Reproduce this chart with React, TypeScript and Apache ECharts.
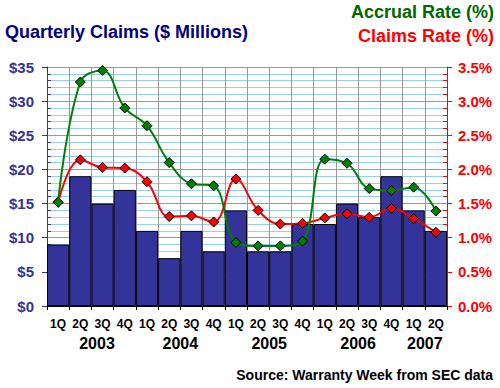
import React, { useEffect, useRef } from "react";
import * as echarts from "echarts";

const quarters = ["1Q", "2Q", "3Q", "4Q", "1Q", "2Q", "3Q", "4Q", "1Q", "2Q", "3Q", "4Q", "1Q", "2Q", "3Q", "4Q", "1Q", "2Q"];
const years = ["2003", "2004", "2005", "2006", "2007"];
const yearPositions = [2.25, 6, 10, 14, 17];
const claims = [9, 19, 15, 17, 11, 7, 11, 8, 14, 8, 8, 12, 12, 15, 13, 19, 14, 11];
const accrualRate = [1.52, 3.28, 3.45, 2.9, 2.64, 2.1, 1.79, 1.76, 0.93, 0.88, 0.88, 0.95, 2.15, 2.09, 1.72, 1.69, 1.74, 1.39];
const claimsRate = [1.52, 2.14, 2.03, 2.02, 1.82, 1.31, 1.32, 1.23, 1.86, 1.4, 1.2, 1.21, 1.29, 1.35, 1.3, 1.43, 1.28, 1.08];

const FONT = "'Liberation Sans', Arial, Helvetica, sans-serif";

export default function App() {
  const ref = useRef<HTMLDivElement>(null);
  useEffect(() => {
    if (!ref.current) return;
    const chart = echarts.init(ref.current, undefined, { renderer: "svg" });
    chart.setOption({
      animation: false,
      backgroundColor: "#ffffff",
      textStyle: { fontFamily: FONT },
      grid: { left: 47, right: 53, top: 67, bottom: 82, containLabel: false },
      graphic: [
        {
          type: "text",
          left: 5,
          top: 23,
          style: { text: "Quarterly Claims ($ Millions)", fill: "#000080", font: `bold 18px ${FONT}` },
        },
        {
          type: "text",
          right: 6,
          top: 3,
          style: { text: "Accrual Rate (%)", fill: "#006600", font: `bold 18px ${FONT}` },
        },
        {
          type: "text",
          right: 6,
          top: 27,
          style: { text: "Claims Rate (%)", fill: "#ff0000", font: `bold 18px ${FONT}` },
        },
        {
          type: "text",
          right: 7,
          top: 368,
          style: { text: "Source: Warranty Week from SEC data", fill: "#000000", font: `bold 14px ${FONT}` },
        },
      ],
      xAxis: [
        {
          type: "category",
          data: quarters,
          boundaryGap: true,
          axisLine: { lineStyle: { color: "#000", width: 1 } },
          axisTick: { show: true, interval: 0, length: 4, lineStyle: { color: "#000" } },
          axisLabel: { interval: 0, color: "#000", fontSize: 12, fontWeight: "bold", margin: 12, fontFamily: FONT },
          splitLine: { show: true, interval: 0, lineStyle: { color: "#999999", width: 1 } },
        },
        {
          type: "value",
          position: "bottom",
          min: 0,
          max: 18,
          interval: 0.25,
          axisLine: { show: false },
          axisTick: { show: false },
          splitLine: { show: false },
          axisLabel: {
            margin: 29,
            color: "#000",
            fontSize: 16,
            fontWeight: "bold",
            fontFamily: FONT,
            showMinLabel: true,
            showMaxLabel: true,
            formatter: (v: number) => {
              const i = yearPositions.findIndex((p) => Math.abs(p - v) < 1e-6);
              return i >= 0 ? years[i] : "";
            },
          },
        },
      ],
      yAxis: [
        {
          type: "value",
          min: 0,
          max: 35,
          interval: 5,
          position: "left",
          axisLine: { show: true, lineStyle: { color: "#333399", width: 1 } },
          axisTick: { show: true, length: 5, lineStyle: { color: "#333399" } },
          minorTick: { show: true, splitNumber: 5, length: -4, lineStyle: { color: "#333399" } },
          axisLabel: {
            color: "#333399",
            fontSize: 15,
            fontWeight: "bold",
            margin: 13,
            fontFamily: FONT,
            formatter: (v: number) => "$" + v,
          },
          splitLine: { show: true, lineStyle: { color: "#999999", width: 1 } },
          minorSplitLine: { show: true, lineStyle: { color: "#99ccff", width: 1 } },
        },
        {
          type: "value",
          min: 0,
          max: 3.5,
          interval: 0.5,
          position: "right",
          axisLine: { show: true, lineStyle: { color: "#ff0000", width: 1 } },
          axisTick: { show: true, length: 5, lineStyle: { color: "#ff0000" } },
          minorTick: { show: true, splitNumber: 5, length: -4, lineStyle: { color: "#ff0000" } },
          axisLabel: {
            color: "#ff0000",
            fontSize: 15,
            fontWeight: "bold",
            margin: 11,
            fontFamily: FONT,
            formatter: (v: number) => v.toFixed(1) + "%",
          },
          splitLine: { show: false },
        },
      ],
      series: [
        {
          name: "Quarterly Claims",
          type: "bar",
          xAxisIndex: 0,
          yAxisIndex: 0,
          data: claims,
          barCategoryGap: "0%",
          itemStyle: { color: "#333399", borderColor: "#000000", borderWidth: 1 },
          z: 2,
        },
        {
          name: "Claims Rate",
          type: "line",
          xAxisIndex: 0,
          yAxisIndex: 1,
          data: claimsRate,
          smooth: 0.4,
          symbol: "diamond",
          symbolSize: 10,
          lineStyle: { color: "#ff0000", width: 2 },
          itemStyle: { color: "#ff0000", borderColor: "#000000", borderWidth: 1 },
          z: 3,
        },
        {
          name: "Accrual Rate",
          type: "line",
          xAxisIndex: 0,
          yAxisIndex: 1,
          data: accrualRate,
          smooth: 0.4,
          symbol: "diamond",
          symbolSize: 10,
          lineStyle: { color: "#008000", width: 2 },
          itemStyle: { color: "#008000", borderColor: "#000000", borderWidth: 1 },
          z: 4,
        },
      ],
    });
    return () => chart.dispose();
  }, []);
  return <div ref={ref} style={{ position: "fixed", left: 0, top: 0, width: 500, height: 388 }} />;
}
